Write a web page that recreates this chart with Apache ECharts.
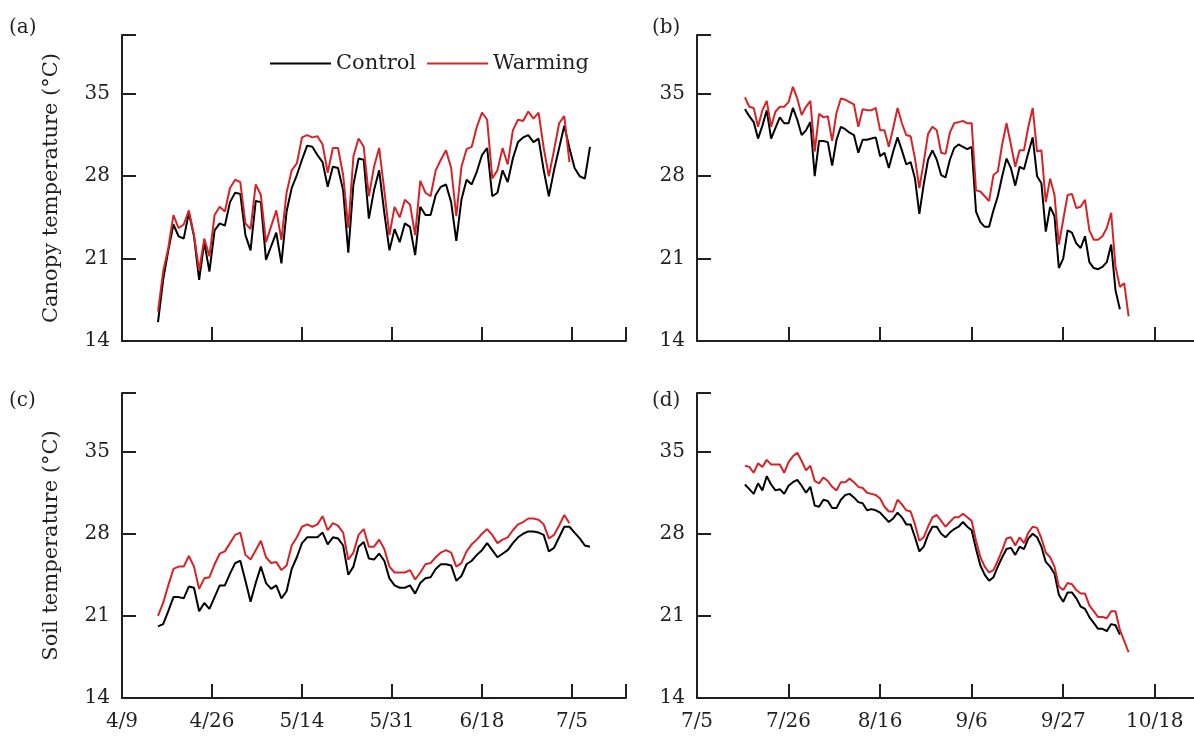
<!DOCTYPE html>
<html>
<head>
<meta charset="utf-8">
<script src="https://cdn.jsdelivr.net/npm/echarts@6/dist/echarts.min.js"></script>
<style>
  html, body { margin: 0; padding: 0; background: #fff; }
  #chart { width: 1194px; height: 736px; }
</style>
</head>
<body>
<div id="chart"></div>
<script>
// y ticks shared by all four panels, axis runs up to 40
const yTicks = [14, 21, 28, 35]
const yTop = 40

// x labels: early season every 17.5 days from 4/9, late season every 21 days from 7/5
const earlyLabels = ['4/9', '4/26', '5/14', '5/31', '6/18', '7/5']
const lateLabels = ['7/5', '7/26', '8/16', '9/6', '9/27', '10/18']

// first daily reading, in days after the axis origin
const earlyStart = 7   // 4/16
const lateStart = 11   // 7/16

// (a) canopy, 4/16 - 7/16 (null = no reading)
const canopyCtrlEarly = [
  15.6, 19.2, 21.7, 23.9, 22.9, 22.7, 24.9, 22.9, 19.2, 22.4, 19.9, 23.4, 24.0, 23.8, 25.8,
  26.6, 26.5, 23.0, 21.7, 25.9, 25.8, 20.9, null, 23.2, 20.6, 25.0, 27.0, 28.1, 29.4, 30.6,
  30.5, 29.8, 29.2, 27.1, 28.8, 28.7, 26.8, 21.5, 27.3, 29.5, 29.4, 24.4, 26.8, 28.5, 24.9,
  21.7, 23.5, 22.4, 24.0, 23.7, 21.3, 25.4, 24.7, 24.7, 26.4, 27.1, 27.3, 25.8, 22.5, 26.0,
  27.7, 27.3, 28.4, 29.8, 30.4, 26.3, 26.6, 28.5, 27.5, 29.5, 30.9, 31.3, 31.5, 30.9, 31.2,
  28.5, 26.3, 28.5, 30.4, 32.3, 30.4, 28.7, 28.0, 27.8, 30.5
]
const canopyWarmEarly = [
  16.5, 19.9, 21.9, 24.7, 23.6, 23.9, 25.1, 23.0, 20.0, 22.7, 21.2, 24.7, 25.4, 25.0, 27.0,
  27.7, 27.5, 24.0, 23.5, 27.3, 26.4, 22.4, null, 25.1, 22.6, 26.6, 28.5, 29.1, 31.3, 31.5,
  31.3, 31.4, 30.7, 28.3, 30.4, 30.4, 28.1, 23.6, 29.7, 31.2, 30.5, 26.3, 28.8, 30.4, 26.8,
  23.0, 25.4, 24.5, 26.0, 25.6, 23.0, 27.6, 26.6, 26.3, 28.5, 29.4, 30.2, 28.7, 24.6, 28.8,
  30.3, 30.5, 32.2, 33.4, 32.8, 27.8, 28.5, 30.4, 29.0, 31.9, 32.8, 32.7, 33.5, 32.9, 33.4,
  30.4, 28.0, 30.2, 32.5, 33.1, 29.2
]

// (b) canopy, 7/16 - 10/12
const canopyCtrlLate = [
  33.7, 33.1, 32.6, 31.2, 32.3, 33.6, 31.2, 32.1, 33.0, 32.5, 32.5, 33.8, 32.8, 31.5, 31.9,
  32.6, 28.0, 31.0, 31.0, 30.9, 28.9, 31.1, 32.2, 32.0, 31.7, 31.5, 30.0, 31.1, 31.1, 31.2,
  31.3, 29.7, 30.0, 28.7, 30.1, 31.3, 30.2, 29.0, 29.2, 27.8, 24.8, 27.3, 29.4, 30.2, 29.4,
  28.1, 27.9, 29.4, 30.4, 30.7, 30.5, 30.3, 30.5, 25.0, 24.1, 23.7, 23.7, 25.1, 26.3, 28.0,
  29.5, 28.7, 27.2, 28.8, 28.6, 30.0, 31.3, 28.0, 27.4, 23.3, 25.4, 24.6, 20.2, 21.0, 23.4,
  23.2, 22.3, 21.9, 22.9, 20.7, 20.2, 20.1, 20.3, 20.7, 22.2, 18.3, 16.7
]
const canopyWarmLate = [
  34.7, 33.9, 33.8, 32.2, 33.6, 34.4, 32.2, 33.5, 33.9, 33.9, 34.3, 35.6, 34.6, 33.2, 33.9,
  34.4, 30.1, 33.3, 33.0, 33.1, 31.0, 33.4, 34.6, 34.5, 34.3, 34.1, 32.2, 33.7, 33.6, 33.6,
  33.8, 31.9, 31.9, 30.5, 32.1, 33.8, 32.5, 31.5, 31.4, 29.5, 27.0, 29.2, 31.6, 32.2, 31.9,
  30.0, 29.9, 31.7, 32.5, 32.6, 32.7, 32.5, 32.5, 26.8, 26.7, 26.3, 25.9, 28.1, 28.4, 30.7,
  32.5, 30.7, 28.8, 30.2, 30.2, 32.2, 33.8, 30.1, 30.2, 25.8, 27.8, 26.4, 22.2, 24.3, 26.4,
  26.5, 25.3, 25.4, 26.0, 23.4, 22.6, 22.6, 22.9, 23.6, 24.9, 20.3, 18.6, 18.9, 16.1
]

// (c) soil, 4/16 - 7/16
const soilCtrlEarly = [
  20.1, 20.3, 21.4, 22.6, 22.6, 22.5, 23.5, 23.4, 21.4, 22.1, 21.6, 22.6, 23.6, 23.6, 24.6,
  25.5, 25.7, 24.0, 22.2, 23.8, 25.2, 23.8, 23.3, 23.6, 22.5, 23.1, 25.0, 26.0, 27.2, 27.7,
  27.7, 27.7, 28.1, 27.1, 27.7, 27.6, 27.0, 24.5, 25.2, 26.9, 27.3, 25.9, 25.8, 26.3, 25.7,
  24.2, 23.6, 23.4, 23.4, 23.6, 22.9, 23.8, 24.2, 24.3, 25.0, 25.4, 25.4, 25.3, 24.0, 24.4,
  25.4, 25.7, 26.2, 26.6, 27.2, 26.6, 26.0, 26.3, 26.6, 27.2, 27.7, 28.0, 28.2, 28.2, 28.1,
  27.9, 26.5, 26.8, 27.7, 28.6, 28.6, 28.1, 27.6, 27.0, 26.9
]
const soilWarmEarly = [
  21.0, 22.1, 23.6, 25.0, 25.2, 25.2, 26.1, 25.2, 23.3, 24.2, 24.3, 25.4, 26.3, 26.5, 27.2,
  27.9, 28.1, 26.2, 25.8, 26.6, 27.4, 26.0, 25.5, 25.6, 24.9, 25.3, 27.0, 27.7, 28.6, 28.8,
  28.6, 28.8, 29.5, 28.3, 28.9, 28.7, 28.1, 25.8, 26.4, 27.9, 28.4, 26.9, 26.9, 27.5, 26.7,
  25.2, 24.7, 24.7, 24.7, 24.9, 24.1, 24.7, 25.4, 25.5, 26.0, 26.4, 26.6, 26.4, 25.2, 25.5,
  26.5, 27.1, 27.5, 28.0, 28.4, 27.9, 27.2, 27.5, 27.7, 28.3, 28.8, 29.0, 29.3, 29.3, 29.2,
  28.8, 27.6, 27.9, 28.7, 29.6, 28.9
]

// (d) soil, 7/16 - 10/12
const soilCtrlLate = [
  32.2, 31.8, 31.4, 32.3, 31.7, 32.9, 32.2, 31.7, 31.8, 31.4, 32.1, 32.4, 32.6, 32.1, 31.5,
  32.0, 30.4, 30.3, 30.9, 30.8, 30.2, 30.2, 30.9, 31.3, 31.4, 31.1, 30.7, 30.6, 30.0, 30.1,
  30.0, 29.8, 29.4, 29.0, 29.3, 29.8, 29.4, 28.8, 28.8, 27.7, 26.5, 26.9, 27.9, 28.6, 28.6,
  28.0, 27.7, 28.1, 28.4, 28.6, 29.0, 28.6, 28.3, 26.7, 25.3, 24.5, 24.0, 24.3, 25.2, 26.0,
  26.7, 26.8, 26.2, 26.9, 26.7, 27.6, 28.0, 27.7, 26.9, 25.6, 25.2, 24.6, 22.8, 22.2, 23.0,
  23.0, 22.5, 21.8, 21.6, 20.9, 20.4, 19.9, 19.9, 19.7, 20.3, 20.2, 19.4
]
const soilWarmLate = [
  33.8, 33.7, 33.2, 34.0, 33.7, 34.3, 33.9, 33.9, 33.9, 33.2, 34.1, 34.6, 34.9, 34.2, 33.4,
  33.8, 32.5, 32.3, 32.8, 32.5, 32.0, 31.7, 32.4, 32.4, 32.7, 32.4, 32.0, 31.9, 31.5, 31.4,
  31.3, 31.0, 30.3, 29.9, 29.9, 30.9, 30.5, 30.0, 29.9, 28.8, 27.4, 27.7, 28.6, 29.4, 29.6,
  29.1, 28.6, 29.0, 29.4, 29.4, 29.7, 29.4, 29.1, 27.4, 26.0, 25.2, 24.7, 24.9, 25.7, 26.6,
  27.6, 27.7, 27.0, 27.7, 27.2, 28.1, 28.6, 28.5, 27.6, 26.4, 26.0, 25.2, 23.5, 23.2, 23.8,
  23.7, 23.2, 22.9, 22.9, 21.9, 21.4, 20.9, 20.9, 20.8, 21.4, 21.4, 19.8, null, 17.9
]

const FONT = 'DejaVu Serif'
const INK = '#231f20'
const RED = '#d42428'

const toPairs = (values, start) => values.map((v, i) => [start + i, v])

function xAxisFor(gridIndex, max, step, labels, showLabels, endTick) {
  const pos = labels.map((_, i) => i * step)
  return {
    type: 'value', gridIndex, min: 0, max,
    axisLine: { show: true, lineStyle: { color: INK, width: 2 } },
    axisTick: {
      show: true, inside: true, length: 14,
      lineStyle: { color: INK, width: 2 },
      customValues: endTick ? pos.concat([max]) : pos,
    },
    axisLabel: {
      show: showLabels, customValues: pos, margin: 14,
      formatter: v => labels[Math.round(v / step)],
      fontFamily: FONT, fontSize: 20, color: INK,
    },
    splitLine: { show: false },
  }
}

function yAxisFor(gridIndex, name) {
  return {
    type: 'value', gridIndex, min: 14, max: yTop,
    name, nameLocation: 'middle', nameGap: 60,
    nameTextStyle: { fontFamily: FONT, fontSize: 21, color: INK },
    axisLine: { show: true, lineStyle: { color: INK, width: 2 } },
    axisTick: {
      show: true, inside: true, length: 14,
      lineStyle: { color: INK, width: 2 },
      customValues: yTicks.concat([yTop]),
    },
    axisLabel: { customValues: yTicks, margin: 12, fontFamily: FONT, fontSize: 20, color: INK },
    splitLine: { show: false },
  }
}

function line(name, color, values, start, idx) {
  return {
    name, type: 'line', xAxisIndex: idx, yAxisIndex: idx,
    data: toPairs(values, start),
    symbol: 'none', connectNulls: true,
    lineStyle: { color, width: 2 },
    itemStyle: { color },
  }
}

const panelTitle = (text, left, top) => ({
  text, left, top, padding: 0,
  textStyle: { fontFamily: FONT, fontSize: 20, fontWeight: 'normal', color: INK },
})

const chart = echarts.init(document.getElementById('chart'), null, { renderer: 'canvas' })

chart.setOption({
  animation: false,
  backgroundColor: '#fff',
  title: [
    panelTitle('(a)', 9, 18),
    panelTitle('(b)', 652, 18),
    panelTitle('(c)', 9, 391),
    panelTitle('(d)', 652, 391),
  ],
  legend: {
    data: ['Control', 'Warming'],
    left: 270, top: 53, padding: 0,
    icon: 'rect', itemWidth: 61, itemHeight: 2, itemGap: 11,
    textStyle: { fontFamily: FONT, fontSize: 21, color: INK },
  },
  grid: [
    { left: 122, top: 35, width: 504, height: 306, containLabel: false, outerBoundsMode: 'none' },
    { left: 697, top: 35, width: 497, height: 306, containLabel: false, outerBoundsMode: 'none' },
    { left: 122, top: 393, width: 504, height: 305, containLabel: false, outerBoundsMode: 'none' },
    { left: 697, top: 393, width: 497, height: 305, containLabel: false, outerBoundsMode: 'none' },
  ],
  xAxis: [
    xAxisFor(0, 98, 17.5, earlyLabels, false, true),
    xAxisFor(1, 114, 21, lateLabels, false, false),
    xAxisFor(2, 98, 17.5, earlyLabels, true, true),
    xAxisFor(3, 114, 21, lateLabels, true, false),
  ],
  yAxis: [
    yAxisFor(0, 'Canopy temperature (°C)'),
    yAxisFor(1, ''),
    yAxisFor(2, 'Soil temperature (°C)'),
    yAxisFor(3, ''),
  ],
  series: [
    line('Control', '#000', canopyCtrlEarly, earlyStart, 0),
    line('Warming', RED, canopyWarmEarly, earlyStart, 0),
    line('Control', '#000', canopyCtrlLate, lateStart, 1),
    line('Warming', RED, canopyWarmLate, lateStart, 1),
    line('Control', '#000', soilCtrlEarly, earlyStart, 2),
    line('Warming', RED, soilWarmEarly, earlyStart, 2),
    line('Control', '#000', soilCtrlLate, lateStart, 3),
    line('Warming', RED, soilWarmLate, lateStart, 3),
  ],
})
</script>
</body>
</html>
